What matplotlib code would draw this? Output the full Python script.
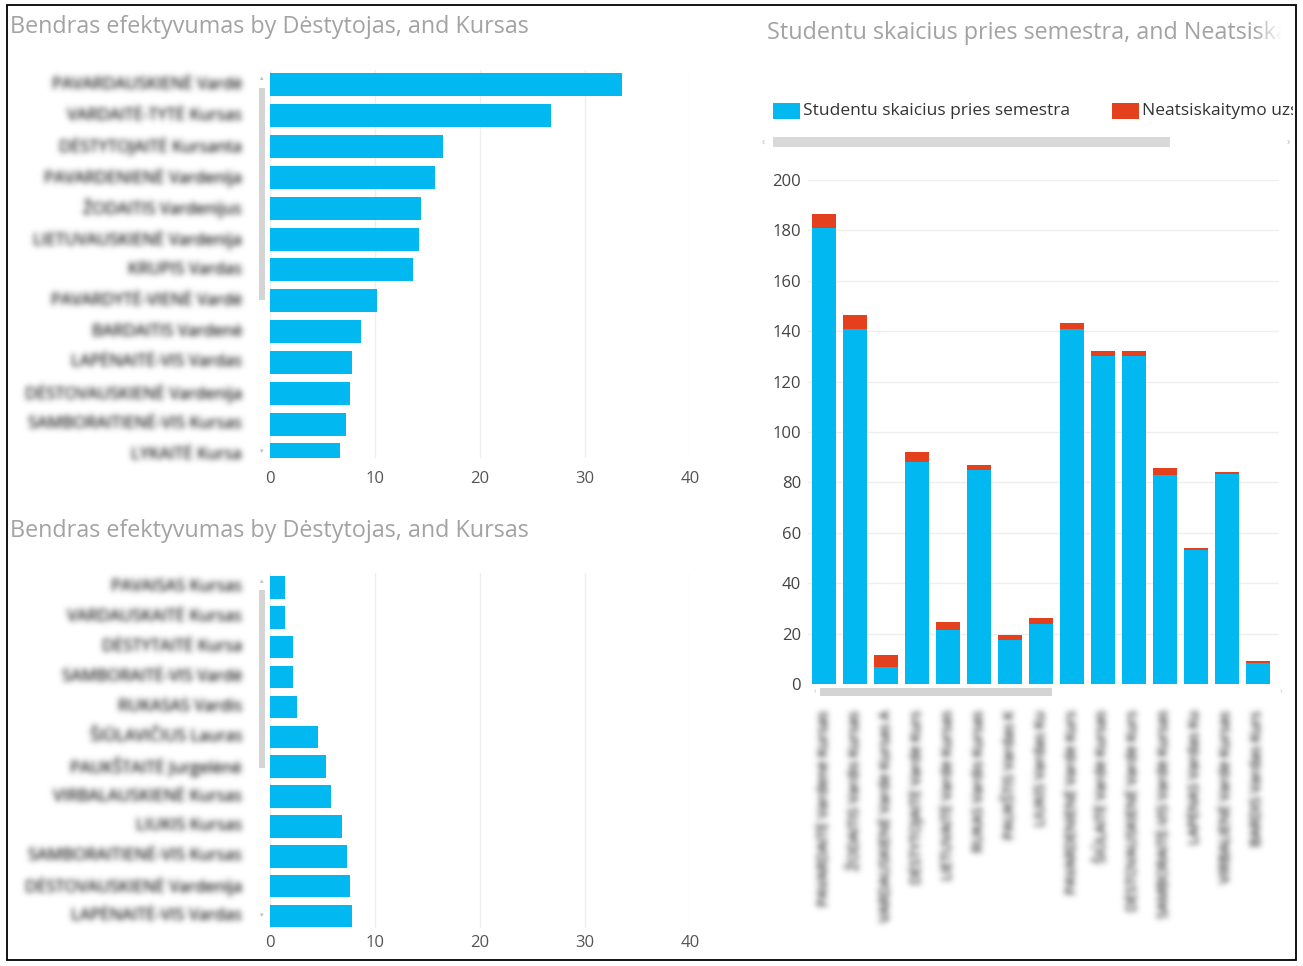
import numpy as np
import matplotlib
matplotlib.use('Agg')
import matplotlib.pyplot as plt
from matplotlib.patches import Rectangle
import matplotlib.transforms as mtransforms

W, H = 1303, 966

# ---------------- data ----------------
top_title = "Bendras efektyvumas by Dėstytojas, and Kursas"
top_labels = ["PAVARDAUSKIENĖ Vardė", "VARDAITĖ-TYTĖ Kursas", "DĖSTYTOJAITĖ Kursanta",
              "PAVARDENIENĖ Vardenija", "ŽODAITIS Vardenijus", "LIETUVAUSKIENĖ Vardenija",
              "KRUPIS Vardas", "PAVARDYTĖ-VIENĖ Vardė", "BARDAITIS Vardenė",
              "LAPĖNAITĖ-VIS Vardas", "DĖSTOVAUSKIENĖ Vardenija", "SAMBORAITIENĖ-VIS Kursas",
              "LYKAITĖ Kursa"]
top_values = [33.5, 26.8, 16.5, 15.7, 14.4, 14.2, 13.6, 10.2, 8.7, 7.8, 7.6, 7.2, 6.7]

bottom_title = "Bendras efektyvumas by Dėstytojas, and Kursas"
bottom_labels = ["PAVAISAS Kursas", "VARDAUSKAITĖ Kursas", "DĖSTYTAITĖ Kursa",
                 "SAMBORAITĖ-VIS Vardė", "RUKASAS Vardis", "ŠIŪLAVIČIUS Lauras",
                 "PAUKŠTAITĖ Jurgelėnė", "VIRBALAUSKIENĖ Kursas", "LIUKIS Kursas",
                 "SAMBORAITIENĖ-VIS Kursas", "DĖSTOVAUSKIENĖ Vardenija", "LAPĖNAITĖ-VIS Vardas"]
bottom_values = [1.4, 1.4, 2.2, 2.2, 2.6, 4.6, 5.3, 5.8, 6.9, 7.3, 7.6, 7.8]
left_xticks = [0, 10, 20, 30, 40]

right_title = "Studentu skaicius pries semestra, and Neatsiskaitymo uzskaita"
series_names = ["Studentu skaicius pries semestra", "Neatsiskaitymo uzskaita"]
right_labels = ["PAVARDAITĖ Vardenė Kursas", "ŽODAITIS Vardis Kursas",
                "VARDAUSKIENĖ Vardė Kursas A", "DĖSTYTOJAITĖ Vardė Kurs",
                "LIETUVAITĖ Vardė Kursas", "RUKAS Vardis Kursas",
                "PAUKŠTIS Vardas K", "LIUKIS Vardas Ku",
                "PAVARDENIENĖ Vardė Kurs", "ŠIŪLAITĖ Vardė Kursas",
                "DĖSTOVAUSKIENĖ Vardė Kurs", "SAMBORAITĖ-VIS Vardė Kursas",
                "LAPĖNAS Vardas Ku", "VIRBALIENĖ Vardė Kursas", "BARDIS Vardas Kurs"]
students_before = [181, 141, 6.6, 88, 21.3, 85, 17.6, 24, 141, 130, 130, 83, 53, 83.2, 8.2]
not_passed = [5.5, 5.5, 4.8, 4.2, 3.5, 2.0, 2.0, 2.0, 2.3, 2.3, 2.3, 2.6, 0.8, 1.0, 1.0]
right_yticks = list(range(0, 201, 20))

# ---------------- style ----------------
BLUE = '#01b8f0'
RED = '#e5401d'
GRID = '#eeeeee'
TITLE_C = '#a3a3a3'
TICK_C = '#555555'
FONT = ['Open Sans', 'DejaVu Sans']
plt.rcParams['font.family'] = FONT


class Blur:
    """Gaussian blur agg filter (text stays real text, drawn blurred)."""
    def __init__(self, sigma_px, color=(0.36, 0.36, 0.36), strength=1.0):
        self.sigma = sigma_px
        self.color = color
        self.strength = strength

    def __call__(self, im, dpi):
        s = self.sigma * dpi / 100.0
        pad = int(np.ceil(3 * s))
        a = np.pad(im[:, :, 3], pad)
        x = np.arange(-pad, pad + 1)
        k = np.exp(-0.5 * (x / s) ** 2)
        k /= k.sum()
        tmp = np.zeros_like(a)
        for i, w in enumerate(k):
            tmp += w * np.roll(a, i - pad, axis=0)
        out_a = np.zeros_like(a)
        for i, w in enumerate(k):
            out_a += w * np.roll(tmp, i - pad, axis=1)
        out = np.empty(a.shape + (4,))
        out[..., :3] = self.color
        out[..., 3] = np.clip(out_a * self.strength, 0, 1)
        return out, -pad, -pad


def fr(x0, y0, x1, y1):
    return [x0 / W, 1 - y1 / H, (x1 - x0) / W, (y1 - y0) / H]


fig = plt.figure(figsize=(W / 100, H / 100), dpi=100)
fig.patch.set_facecolor('white')

# overlay in pixel coordinates for decorations
ov = fig.add_axes([0, 0, 1, 1])
ov.axis('off')
ov.add_patch(Rectangle((7, 5), 1289, 955, fill=False, ec='black', lw=1.3, zorder=10))

# titles
ov.text(10, 27, top_title, fontsize=16.8, color=TITLE_C, va='center', ha='left')
ov.text(10, 531, bottom_title, fontsize=16.8, color=TITLE_C, va='center', ha='left')
t = ov.text(767, 33, right_title, fontsize=16.8, color=TITLE_C, va='center', ha='left')
grad = np.ones((1, 30, 4))
grad[0, :, 3] = np.linspace(0, 1, 30)
ov.imshow(grad, extent=(1254, 1282, 50, 12), aspect='auto', zorder=5, interpolation='bilinear')
ov.set_xlim(0, W)
ov.set_ylim(H, 0)
t.set_clip_box(mtransforms.TransformedBbox(
    mtransforms.Bbox.from_extents(760, 0, 1282, 160), ov.transData))
t.set_clip_on(True)

# legend (manual, clipped like the reference)
clipbox = mtransforms.TransformedBbox(
    mtransforms.Bbox.from_extents(760, 0, 1293, 160), ov.transData)
ov.add_patch(Rectangle((773, 103), 27, 16, color=BLUE, lw=0))
ov.add_patch(Rectangle((1112, 103), 27, 16, color=RED, lw=0))
ov.text(803, 111, series_names[0], fontsize=12.5, color='#333333', va='center')
t2 = ov.text(1142, 111, series_names[1], fontsize=12.5, color='#333333', va='center')
t2.set_clip_box(clipbox)
t2.set_clip_on(True)

# scrollbars
ov.add_patch(Rectangle((773, 137), 397, 10, color='#d9d9d9', lw=0))
ov.text(763, 142, '‹', fontsize=8, color='#bbbbbb', ha='center', va='center')
ov.text(1288, 142, '›', fontsize=8, color='#bbbbbb', ha='center', va='center')
ov.add_patch(Rectangle((820, 688), 232, 8, color='#d4d4d4', lw=0))
ov.text(815, 692, '‹', fontsize=6, color='#bbbbbb', ha='center', va='center')
ov.text(1281, 692, '›', fontsize=6, color='#bbbbbb', ha='center', va='center')
ov.add_patch(Rectangle((259, 88), 6, 212, color='#d4d4d4', lw=0))
ov.text(262, 79, '▴', fontsize=5, color='#bbbbbb', ha='center', va='center')
ov.text(262, 452, '▾', fontsize=5, color='#bbbbbb', ha='center', va='center')
ov.add_patch(Rectangle((259, 590), 6, 178, color='#d4d4d4', lw=0))
ov.text(262, 582, '▴', fontsize=5, color='#bbbbbb', ha='center', va='center')
ov.text(262, 916, '▾', fontsize=5, color='#bbbbbb', ha='center', va='center')


def hbar_panel(rect, labels, values, ylim_bottom, pad):
    ax = fig.add_axes(fr(*rect))
    y = np.arange(len(values))
    ax.barh(y, values, height=0.75, color=BLUE, zorder=3)
    ax.set_xlim(0, 40)
    ax.set_ylim(ylim_bottom, -0.5)
    ax.set_xticks(left_xticks)
    ax.set_xticklabels([str(v) for v in left_xticks])
    ax.set_yticks([])
    ax.grid(axis='x', color=GRID, lw=1, zorder=0)
    for s in ax.spines.values():
        s.set_visible(False)
    ax.tick_params(axis='x', length=0, pad=pad, labelsize=12, labelcolor=TICK_C)
    trans = mtransforms.blended_transform_factory(ov.transData, ax.transData)
    for yi, lab in zip(y, labels):
        tt = ax.text(242, yi, lab, transform=trans, ha='right', va='center',
                     fontsize=12, color='#444444', clip_on=False)
        tt.set_agg_filter(Blur(3.0, strength=1.8))
    return ax


hbar_panel((270, 69.5, 690, 458), top_labels, top_values, 12.1, 9)
hbar_panel((270, 572.5, 690, 928), bottom_labels, bottom_values, 11.4, 5)

# right stacked column chart
axr = fig.add_axes(fr(808, 180, 1279, 684))
x = np.arange(len(students_before))
axr.bar(x, students_before, width=0.77, color=BLUE, zorder=3)
axr.bar(x, not_passed, width=0.77, bottom=students_before, color=RED, zorder=3)
axr.set_xlim(-0.52, 14.68)
axr.set_ylim(0, 200)
axr.set_yticks(right_yticks)
axr.set_yticklabels([str(v) for v in right_yticks])
axr.set_xticks([])
axr.grid(axis='y', color=GRID, lw=1, zorder=0)
for s in axr.spines.values():
    s.set_visible(False)
axr.tick_params(axis='y', length=0, pad=5, labelsize=12, labelcolor='#444444')
transr = mtransforms.blended_transform_factory(axr.transData, ov.transData)
for xi, lab in zip(x, right_labels):
    tt = axr.text(xi, 710, lab, transform=transr, rotation=90, ha='center', va='top',
                  fontsize=10.5, color='#444444', clip_on=False)
    tt.set_agg_filter(Blur(3.0, strength=1.8))

fig.savefig('out.png', dpi=100, facecolor='white')
